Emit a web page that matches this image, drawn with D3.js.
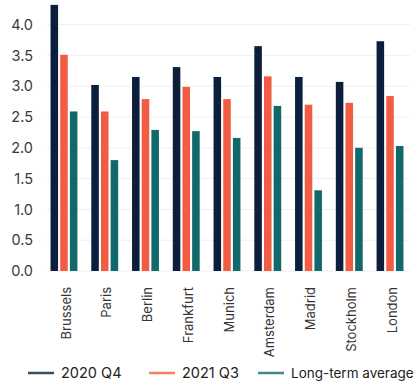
<!DOCTYPE html>
<html>
<head>
<meta charset="utf-8">
<script src="https://cdn.jsdelivr.net/npm/d3@7"></script>
<style>
  body { margin: 0; background: #fff; }
  text { font-family: "Inter", "Lato", sans-serif; }
</style>
</head>
<body>
<div id="chart"></div>
<script>
// data
var cities = ["Brussels", "Paris", "Berlin", "Frankfurt", "Munich", "Amsterdam", "Madrid", "Stockholm", "London"];
var q4_2020 = [4.32, 3.02, 3.15, 3.31, 3.15, 3.65, 3.15, 3.07, 3.73];
var q3_2021 = [3.51, 2.59, 2.79, 2.99, 2.79, 3.16, 2.70, 2.73, 2.84];
var longTerm = [2.59, 1.80, 2.29, 2.27, 2.16, 2.68, 1.31, 2.00, 2.03];
var seriesNames = ["2020 Q4", "2021 Q3", "Long-term average"];
var yTicks = [0, 0.5, 1, 1.5, 2, 2.5, 3, 3.5, 4];

var colors = ["#0b1f3d", "#f25c43", "#11696b"];
var allSeries = [q4_2020, q3_2021, longTerm];

var W = 418, H = 385;
var svg = d3.select("#chart").append("svg")
    .attr("width", W)
    .attr("height", H);

var x = d3.scaleBand()
    .domain(cities)
    .range([43.6, 410.4])
    .paddingInner(0.34)
    .paddingOuter(0.17);

var xSub = d3.scaleBand()
    .domain(d3.range(3))
    .range([0, x.bandwidth()])
    .paddingInner(0.22);

var y = d3.scaleLinear()
    .domain([0, 4])
    .range([271, 24.6]);

// gridlines
svg.append("g")
    .selectAll("line")
    .data(yTicks)
    .enter()
    .append("line")
    .attr("x1", 47)
    .attr("x2", 410)
    .attr("y1", function (d) { return y(d); })
    .attr("y2", function (d) { return y(d); })
    .attr("stroke", "#efefef")
    .attr("stroke-width", 1);

// y axis labels
var yAxis = d3.axisLeft(y)
    .tickValues(yTicks)
    .tickFormat(d3.format(".1f"))
    .tickSize(0)
    .tickPadding(0);
var gy = svg.append("g")
    .attr("transform", "translate(33,0)")
    .call(yAxis);
gy.select(".domain").remove();
gy.selectAll("text")
    .attr("font-size", "14.5px")
    .attr("fill", "#3a3a3a")
    .style("font-family", "Inter, Lato, sans-serif");

// bars
var groups = svg.append("g")
    .selectAll("g")
    .data(cities)
    .enter()
    .append("g")
    .attr("transform", function (d) { return "translate(" + x(d) + ",0)"; });

groups.selectAll("rect")
    .data(function (d, i) { return allSeries.map(function (s, k) { return { k: k, v: s[i] }; }); })
    .enter()
    .append("rect")
    .attr("x", function (d) { return xSub(d.k); })
    .attr("width", xSub.bandwidth())
    .attr("y", function (d) { return y(d.v); })
    .attr("height", function (d) { return y(0) - y(d.v); })
    .attr("fill", function (d) { return colors[d.k]; });

// x axis labels, rotated
var xAxis = d3.axisBottom(x).tickSize(0).tickPadding(0);
var gx = svg.append("g")
    .attr("transform", "translate(0,287)")
    .call(xAxis);
gx.select(".domain").remove();
gx.selectAll("text")
    .attr("transform", "rotate(-90)")
    .attr("text-anchor", "end")
    .attr("dy", "0.35em")
    .attr("x", 0)
    .attr("y", 2)
    .attr("font-size", "13px")
    .attr("fill", "#333")
    .style("font-family", "Inter, Lato, sans-serif");

// legend
var legendX = [28, 149, 258];
var legendSize = ["14.5px", "14.5px", "13.5px"];
var leg = svg.append("g")
    .selectAll("g")
    .data(seriesNames)
    .enter()
    .append("g")
    .attr("transform", function (d, i) { return "translate(" + legendX[i] + ",373)"; });
leg.append("line")
    .attr("x1", 0)
    .attr("x2", 26)
    .attr("stroke", function (d, i) { return colors[i]; })
    .attr("stroke-opacity", 0.8)
    .attr("stroke-width", 2.5);
leg.append("text")
    .attr("x", 33)
    .attr("dy", "0.35em")
    .attr("font-size", function (d, i) { return legendSize[i]; })
    .attr("fill", "#222")
    .text(function (d) { return d; });
</script>
</body>
</html>
